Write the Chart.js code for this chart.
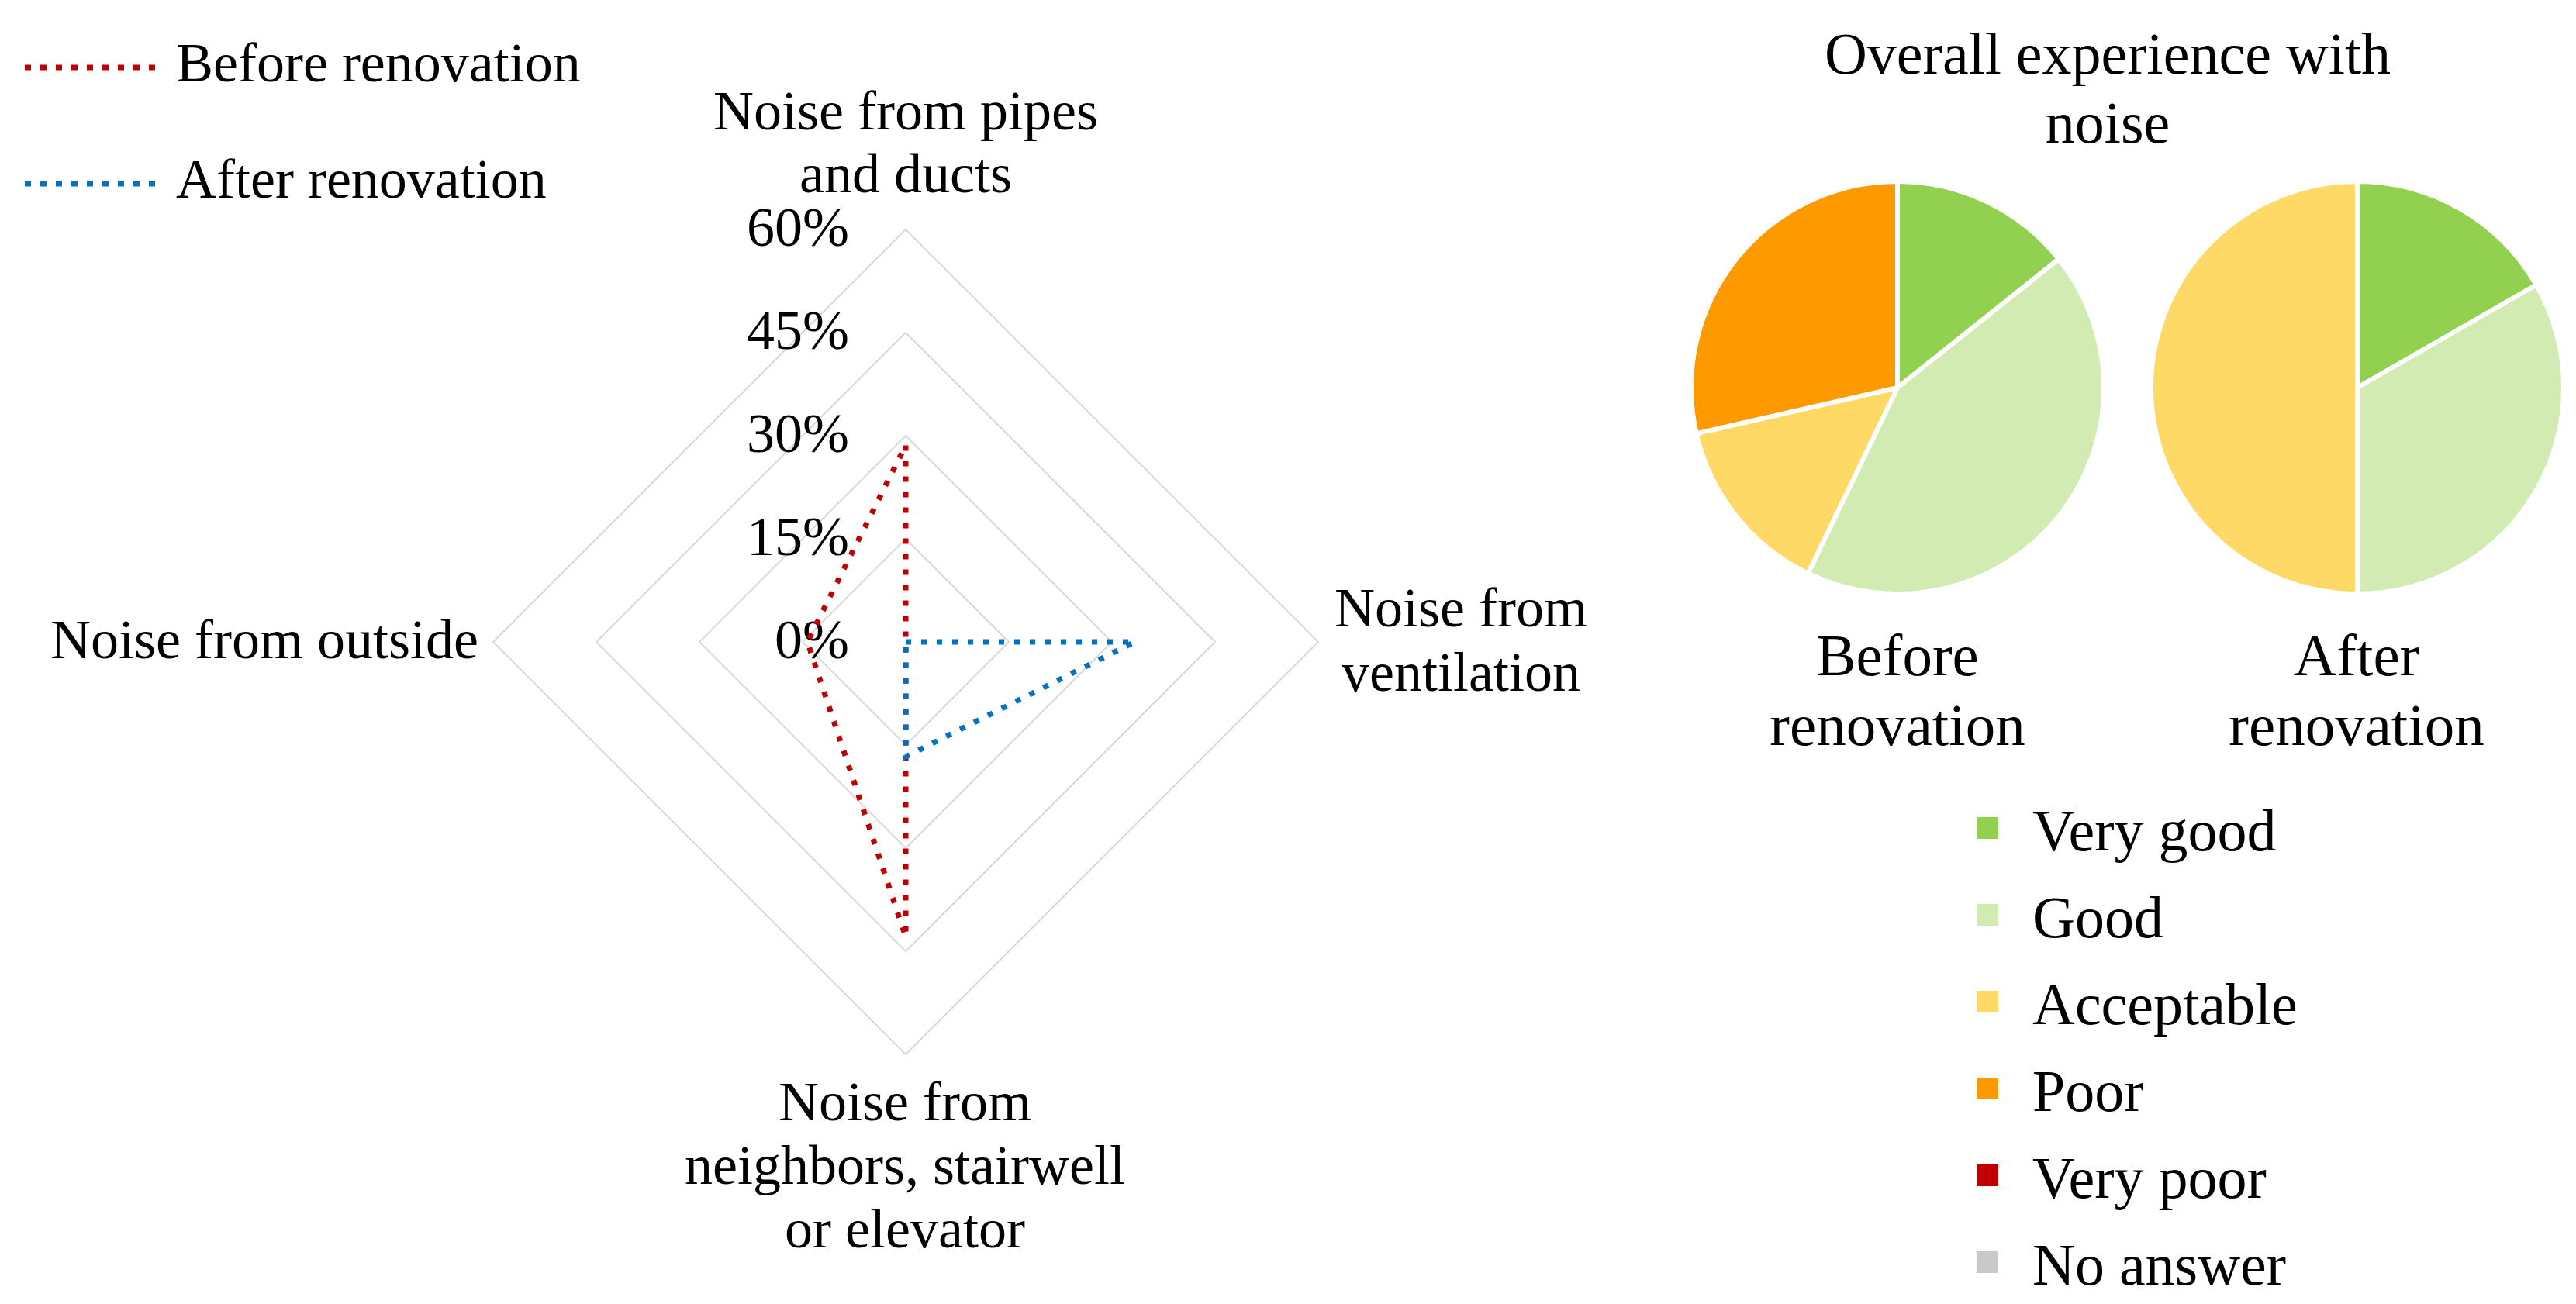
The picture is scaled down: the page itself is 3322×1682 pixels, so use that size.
<!DOCTYPE html>
<html>
<head>
<meta charset="utf-8">
<script src="https://cdn.jsdelivr.net/npm/chart.js@4.4.1/dist/chart.umd.min.js"></script>
<style>
html,body{margin:0;padding:0;background:#ffffff;}
body{width:3322px;height:1682px;position:relative;overflow:hidden;font-family:"Liberation Serif","Times New Roman",serif;color:#000;}
.t{position:absolute;white-space:nowrap;}
canvas{position:absolute;}
.sq{position:absolute;width:28px;height:28px;}
</style>
</head>
<body>
<canvas id="radar" width="1184" height="1184"></canvas>
<canvas id="pieBefore" width="600" height="600"></canvas>
<canvas id="pieAfter" width="600" height="600"></canvas>
<svg id="legendSvg" style="position:absolute;left:0;top:0" width="260" height="300"></svg>
<script>
// ---------------- data ----------------
const radarCategories = [
  ['Noise from pipes', 'and ducts'],
  ['Noise from', 'ventilation'],
  ['Noise from', 'neighbors, stairwell', 'or elevator'],
  ['Noise from outside']
];
const radarSeriesNames = ['Before renovation', 'After renovation'];
const beforeRenovation = [28.6, 0, 42.9, 14.3];
const afterRenovation = [0, 33.3, 16.7, 0];
const radarMax = 60;
const radarStep = 15;

const pieCategories = ['Very good', 'Good', 'Acceptable', 'Poor', 'Very poor', 'No answer'];
const pieBeforeShares = [14.3, 42.9, 14.3, 28.6, 0, 0];
const pieAfterShares = [16.7, 33.3, 50.0, 0, 0, 0];
const pieTitle = ['Overall experience with', 'noise'];
const pieNames = [['Before', 'renovation'], ['After', 'renovation']];

// ---------------- styles ----------------
const seriesColors = ['#C00000', '#0070C0'];
const pieColors = ['#92D050', '#D1EBB2', '#FFD966', '#FF9900', '#C00000', '#C9C9C9'];
const FONT = '"Liberation Serif","Times New Roman",serif';

function addText(lines, x, baseline, align, lh, fs) {
  fs = fs || 72;
  const d = document.createElement('div');
  d.className = 't';
  d.style.fontSize = fs + 'px';
  d.style.lineHeight = lh + 'px';
  d.style.top = (baseline - ((lh - 1.107 * fs) / 2 + 0.891 * fs)) + 'px';
  d.style.textAlign = align;
  if (align === 'center') { d.style.left = x + 'px'; d.style.transform = 'translateX(-50%)'; }
  else if (align === 'right') { d.style.right = (3322 - x) + 'px'; }
  else { d.style.left = x + 'px'; }
  d.innerHTML = lines.join('<br>');
  document.body.appendChild(d);
  return d;
}

// ---------------- radar ----------------
const RC = {x: 1168, y: 828};
const tickLabelPlugin = {
  id: 'tickLabels',
  beforeDatasetsDraw(chart) {
    const s = chart.scales.r;
    const ctx = chart.ctx;
    ctx.save();
    ctx.font = '72px ' + FONT;
    ctx.fillStyle = '#000';
    ctx.textAlign = 'right';
    ctx.textBaseline = 'middle';
    s.ticks.forEach(t => {
      const d = s.getDistanceFromCenterForValue(t.value);
      ctx.fillText(t.label, s.xCenter - 73, s.yCenter - d + 2);
    });
    ctx.restore();
  }
};

const radarChart = new Chart(document.getElementById('radar'), {
  type: 'radar',
  data: {
    labels: radarCategories,
    datasets: [
      {label: radarSeriesNames[0], data: beforeRenovation, borderColor: seriesColors[0], backgroundColor: 'rgba(0,0,0,0)',
       borderWidth: 7, borderDash: [7, 13], pointRadius: 0, pointHoverRadius: 0, fill: false, order: 1},
      {label: radarSeriesNames[1], data: afterRenovation, borderColor: seriesColors[1], backgroundColor: 'rgba(0,0,0,0)',
       borderWidth: 7, borderDash: [7, 13], pointRadius: 0, pointHoverRadius: 0, fill: false, order: 0}
    ]
  },
  options: {
    responsive: false, animation: false, devicePixelRatio: 1, events: [],
    layout: {padding: 60},
    plugins: {legend: {display: false}, tooltip: {enabled: false}},
    elements: {line: {tension: 0}},
    scales: {
      r: {
        min: 0, max: radarMax,
        ticks: {stepSize: radarStep, display: false, callback: v => v + '%'},
        grid: {color: '#D9D9D9', lineWidth: 2},
        angleLines: {display: false},
        pointLabels: {display: false}
      }
    }
  },
  plugins: [tickLabelPlugin]
});
(function placeRadar() {
  const s = radarChart.scales.r;
  const c = document.getElementById('radar');
  c.style.left = (RC.x - s.xCenter) + 'px';
  c.style.top = (RC.y - s.yCenter) + 'px';
})();

// radar category labels
addText(radarCategories[0], 1168, 168, 'center', 81);
addText(radarCategories[1], 1884, 809, 'center', 83);
addText(radarCategories[2], 1167, 1445, 'center', 82);
addText(radarCategories[3], 617, 850, 'right', 83);

// radar legend
const svg = document.getElementById('legendSvg');
const legendBaselines = [106, 256];
radarSeriesNames.forEach((name, i) => {
  const y = legendBaselines[i] - 19;
  const ln = document.createElementNS('http://www.w3.org/2000/svg', 'line');
  ln.setAttribute('x1', 32); ln.setAttribute('x2', 200);
  ln.setAttribute('y1', y); ln.setAttribute('y2', y);
  ln.setAttribute('stroke', seriesColors[i]);
  ln.setAttribute('stroke-width', 7);
  ln.setAttribute('stroke-dasharray', '8 12');
  svg.appendChild(ln);
  addText([name], 227, legendBaselines[i], 'left', 83);
});

// ---------------- pies ----------------
function makePie(id, values, cx, cy) {
  const canvas = document.getElementById(id);
  const chart = new Chart(canvas, {
    type: 'pie',
    data: {
      labels: pieCategories,
      datasets: [{data: values, backgroundColor: pieColors, borderColor: '#ffffff', borderWidth: 6, hoverBorderWidth: 6, radius: 266}]
    },
    options: {
      responsive: false, animation: false, devicePixelRatio: 1, events: [],
      plugins: {legend: {display: false}, tooltip: {enabled: false}}
    }
  });
  const arc = chart.getDatasetMeta(0).data[0];
  canvas.style.left = (cx - arc.x) + 'px';
  canvas.style.top = (cy - arc.y) + 'px';
  return chart;
}
makePie('pieBefore', pieBeforeShares, 2447, 500);
makePie('pieAfter', pieAfterShares, 3040, 500);

addText(pieTitle, 2718, 95, 'center', 89, 76);
addText(pieNames[0], 2447, 871, 'center', 90, 77);
addText(pieNames[1], 3039, 871, 'center', 90, 77);

// pie legend
pieCategories.forEach((name, i) => {
  const base = 1097 + i * 112;
  const sq = document.createElement('div');
  sq.className = 'sq';
  sq.style.left = '2549px';
  sq.style.top = (base - 29 - 14) + 'px';
  sq.style.background = pieColors[i];
  document.body.appendChild(sq);
  addText([name], 2621, base, 'left', 83, 76);
});
</script>
</body>
</html>
